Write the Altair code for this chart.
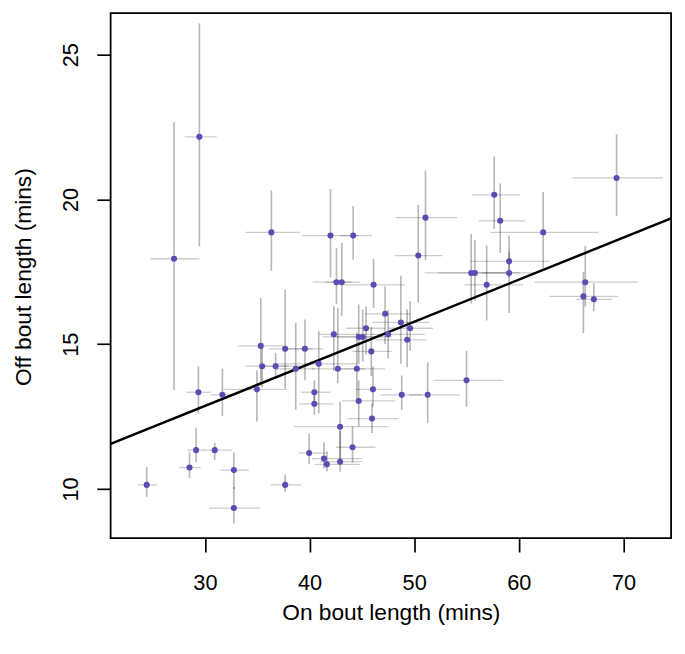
import altair as alt
import pandas as pd

# On bout (x) and Off bout (y) means with their ranges
on_mean = [29.47, 27.05, 36.35, 42.00, 44.17, 42.57, 43.08, 46.12, 45.40, 42.32,
           44.70, 45.08, 45.90, 35.34, 35.47, 37.67, 36.76, 39.56, 38.68, 40.88,
           42.70, 44.52, 29.38, 31.67, 34.97, 40.46, 40.46, 46.06, 44.70, 45.97,
           42.92, 29.16, 30.94, 28.53, 32.77, 24.44, 37.67, 32.77, 39.96, 41.38,
           41.66, 42.92, 44.11, 47.22, 48.73, 49.61, 47.51, 49.33, 48.81, 51.29,
           55.00, 50.39, 51.08, 55.45, 55.80, 56.93, 57.65, 58.22, 59.07, 59.07,
           62.33, 66.35, 66.17, 67.17, 69.34]
off_mean = [22.16, 17.95, 18.86, 18.75, 18.75, 17.14, 17.14, 17.05, 15.55, 15.34,
            15.25, 15.25, 14.75, 14.94, 14.24, 14.84, 14.24, 14.84, 14.15, 14.32,
            14.15, 14.15, 13.34, 13.25, 13.44, 13.34, 12.94, 13.44, 13.04, 12.43,
            12.15, 11.34, 11.34, 10.74, 10.65, 10.14, 10.14, 9.34, 11.24, 11.05,
            10.85, 10.94, 11.44, 16.05, 15.75, 15.55, 15.34, 15.15, 13.25, 13.25,
            13.75, 18.06, 19.37, 17.46, 17.46, 17.05, 20.16, 19.26, 17.86, 17.46,
            18.86, 17.14, 16.65, 16.55, 20.74]
on_lo = [28.06, 24.76, 33.87, 39.27, 42.90, 40.30, 41.50, 43.30, 43.50, 40.94,
         41.25, 42.50, 44.10, 33.20, 33.90, 36.10, 35.50, 37.50, 36.70, 36.50,
         40.20, 42.50, 28.20, 30.60, 31.80, 39.20, 39.00, 44.40, 43.10, 43.60,
         38.50, 28.30, 29.90, 27.50, 31.50, 23.60, 36.30, 30.40, 39.00, 40.20,
         40.50, 41.00, 42.50, 45.30, 46.00, 47.50, 46.00, 46.30, 46.80, 49.50,
         51.90, 48.16, 48.23, 51.00, 52.30, 54.80, 55.50, 56.17, 55.40, 56.50,
         57.27, 61.50, 62.90, 65.50, 65.13]
on_hi = [31.13, 29.47, 39.11, 44.70, 45.97, 44.00, 44.86, 49.10, 47.20, 46.12,
         47.00, 47.85, 47.85, 37.50, 39.60, 40.30, 38.00, 41.30, 40.50, 44.60,
         45.30, 47.20, 30.60, 33.00, 37.80, 42.00, 42.20, 47.85, 48.20, 48.50,
         47.50, 30.00, 32.60, 29.60, 34.20, 25.40, 39.20, 35.30, 41.60, 45.00,
         44.80, 45.00, 46.30, 49.60, 51.50, 51.80, 51.00, 51.20, 50.80, 54.40,
         58.50, 52.70, 54.13, 60.10, 58.80, 60.40, 60.10, 60.57, 62.90, 61.50,
         67.64, 71.40, 69.50, 68.90, 73.77]
off_lo = [18.38, 13.41, 17.53, 17.31, 17.92, 16.38, 15.97, 16.25, 14.64, 14.09,
          14.32, 14.40, 13.90, 13.58, 13.50, 13.47, 13.80, 13.75, 12.73, 12.62,
          13.65, 13.00, 12.61, 12.52, 12.33, 12.84, 12.56, 12.84, 12.16, 11.93,
          11.02, 10.92, 11.00, 10.38, 10.00, 9.73, 9.90, 8.81, 10.85, 10.70,
          10.60, 10.60, 10.91, 15.00, 14.32, 14.77, 14.50, 14.20, 12.73, 12.27,
          12.84, 16.44, 17.90, 16.40, 16.50, 15.82, 18.98, 18.15, 17.30, 16.08,
          17.61, 16.30, 15.38, 16.14, 19.43]
off_hi = [26.08, 22.67, 20.31, 20.36, 19.77, 18.32, 18.50, 17.95, 16.30, 16.31,
          16.37, 16.20, 15.60, 16.59, 15.00, 16.88, 14.70, 15.85, 15.74, 15.45,
          16.25, 15.40, 14.23, 14.15, 14.09, 13.75, 13.30, 14.23, 13.75, 12.96,
          13.01, 12.11, 11.60, 11.27, 11.26, 10.75, 10.50, 10.07, 11.90, 11.60,
          11.30, 12.00, 12.16, 16.99, 17.36, 16.48, 16.20, 16.20, 13.92, 14.37,
          14.77, 19.81, 21.00, 18.80, 18.60, 18.41, 21.48, 20.55, 18.75, 18.20,
          20.26, 18.40, 17.50, 17.10, 22.25]

x_ticks = [30, 40, 50, 60, 70]
y_ticks = [10, 15, 20, 25]
x_domain = [20.99, 74.55]
y_domain = [8.30, 26.43]

# fitted line coefficients
fit_intercept = 8.51
fit_slope = 0.1453

df = pd.DataFrame({
    "on": on_mean, "off": off_mean,
    "on_lo": on_lo, "on_hi": on_hi,
    "off_lo": off_lo, "off_hi": off_hi,
})
line_df = pd.DataFrame({
    "on": x_domain,
    "off": [fit_intercept + fit_slope * v for v in x_domain],
})

FONT = "Liberation Sans"

xscale = alt.Scale(domain=x_domain, nice=False, zero=False)
yscale = alt.Scale(domain=y_domain, nice=False, zero=False)

xaxis = alt.Axis(
    values=x_ticks, title="On bout length (mins)", grid=False, domain=False,
    tickSize=14, tickWidth=1.7, tickColor="black",
    labelFont=FONT, labelFontSize=22, labelColor="black",
    labelBaseline="alphabetic", labelPadding=38, labelFlush=False,
    titleFont=FONT, titleFontSize=23, titleFontWeight="normal", titleColor="black",
    titleBaseline="alphabetic", titleX=284, titleY=82, titleAlign="center",
)
yaxis = alt.Axis(
    values=y_ticks, title="Off bout length (mins)", grid=False, domain=False,
    tickSize=14, tickWidth=1.7, tickColor="black",
    labelFont=FONT, labelFontSize=22, labelColor="black",
    labelAngle=270, labelAlign="center", labelBaseline="alphabetic",
    labelPadding=20, labelFlush=False,
    titleFont=FONT, titleFontSize=23, titleFontWeight="normal", titleColor="black",
    titleAngle=270, titleBaseline="alphabetic", titleAlign="center",
    titleX=-81, titleY=267,
)

base = alt.Chart(df)

hbars = base.mark_rule(color="black", opacity=0.2, strokeWidth=1.3).encode(
    x=alt.X("on_lo:Q", scale=xscale, axis=xaxis),
    x2="on_hi:Q",
    y=alt.Y("off:Q", scale=yscale, axis=yaxis),
)
vbars = base.mark_rule(color="black", opacity=0.28, strokeWidth=1.7).encode(
    x=alt.X("on:Q", scale=xscale),
    y=alt.Y("off_lo:Q", scale=yscale),
    y2="off_hi:Q",
)
fit = alt.Chart(line_df).mark_line(color="black", strokeWidth=2.5, clip=True).encode(
    x=alt.X("on:Q", scale=xscale),
    y=alt.Y("off:Q", scale=yscale),
)
pts = base.mark_circle(color="#5a4cb4", opacity=1, size=38).encode(
    x=alt.X("on:Q", scale=xscale),
    y=alt.Y("off:Q", scale=yscale),
)

chart = alt.layer(hbars, vbars, fit, pts).properties(
    width=568, height=532,
    autosize=alt.AutoSizeParams(type="none"),
    padding={"left": 104, "top": 1, "right": 6, "bottom": 106},
    background="white",
).configure_view(stroke="black", strokeWidth=1.8, fill="white")

chart.save("out.html", embed_options={"renderer": "svg", "actions": False})
